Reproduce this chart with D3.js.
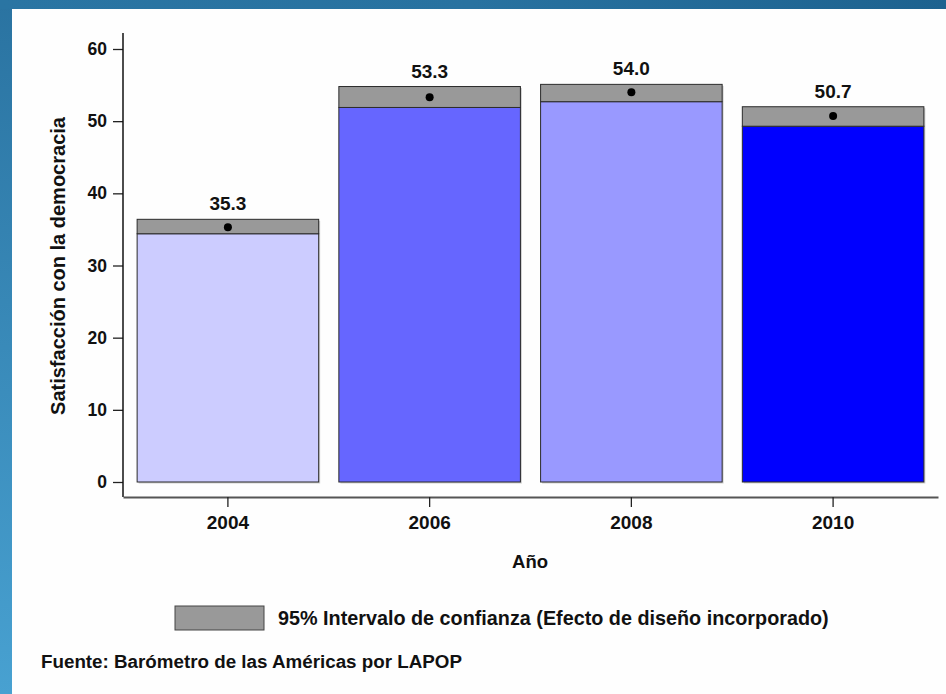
<!DOCTYPE html>
<html>
<head>
<meta charset="utf-8">
<script src="https://cdn.jsdelivr.net/npm/d3@7"></script>
<style>
  html, body { margin: 0; padding: 0; background: #ffffff; }
  svg { display: block; font-family: "Liberation Sans", Arial, Helvetica, sans-serif; font-weight: bold; }
</style>
</head>
<body>
<svg id="chart" width="946" height="694"></svg>
<script>
// ---- data ----
const years = ["2004", "2006", "2008", "2010"];
const means = [35.3, 53.3, 54.0, 50.7];
const ciLow = [34.4, 51.9, 52.7, 49.3];
const ciHigh = [36.4, 54.8, 55.1, 52.0];
const barColors = ["#ccccff", "#6666ff", "#9999ff", "#0000ff"];
const yTicks = [0, 10, 20, 30, 40, 50, 60];
const yTitle = "Satisfacción con la democracia";
const xTitle = "Año";
const legendLabel = "95% Intervalo de confianza (Efecto de diseño incorporado)";
const sourceNote = "Fuente: Barómetro de las Américas por LAPOP";

const svg = d3.select("#chart");
const W = 946, H = 694;

// ---- frame ----
const defs = svg.append("defs");
const gTop = defs.append("linearGradient").attr("id", "gTop").attr("x1", 0).attr("x2", 1).attr("y1", 0).attr("y2", 0);
gTop.append("stop").attr("offset", "0%").attr("stop-color", "#2a75a3");
gTop.append("stop").attr("offset", "50%").attr("stop-color", "#2872a0");
gTop.append("stop").attr("offset", "100%").attr("stop-color", "#1d628f");
const gLeft = defs.append("linearGradient").attr("id", "gLeft").attr("x1", 0).attr("x2", 0).attr("y1", 0).attr("y2", 1);
gLeft.append("stop").attr("offset", "0%").attr("stop-color", "#2a73a1");
gLeft.append("stop").attr("offset", "100%").attr("stop-color", "#48a1d1");

svg.append("rect").attr("x", 0).attr("y", 0).attr("width", W).attr("height", H).attr("fill", "#fefefe");
svg.append("rect").attr("x", 0).attr("y", 0).attr("width", 12).attr("height", H).attr("fill", "url(#gLeft)");
svg.append("rect").attr("x", 0).attr("y", 0).attr("width", W).attr("height", 9).attr("fill", "url(#gTop)");

// ---- scales ----
const x = d3.scaleBand().domain(years).range([123, 938]).paddingInner(0.1).paddingOuter(0.07);
const y = d3.scaleLinear().domain([0, 60]).range([482, 49]);

const data = years.map((yr, i) => ({ yr, mean: means[i], lo: ciLow[i], hi: ciHigh[i], color: barColors[i] }));

// ---- bars ----
const bars = svg.append("g");
bars.selectAll("rect.shadow").data(data).join("rect")
  .attr("class", "shadow")
  .attr("x", d => x(d.yr) + 1.5)
  .attr("y", d => y(d.hi) + 1.5)
  .attr("width", x.bandwidth())
  .attr("height", d => y(0) - y(d.hi))
  .attr("fill", "#000").attr("opacity", 0.18);
bars.selectAll("rect.bar").data(data).join("rect")
  .attr("class", "bar")
  .attr("x", d => x(d.yr))
  .attr("y", d => y(d.lo))
  .attr("width", x.bandwidth())
  .attr("height", d => y(0) - y(d.lo))
  .attr("fill", d => d.color)
  .attr("stroke", "#2b2b2b").attr("stroke-width", 1);
bars.selectAll("rect.ci").data(data).join("rect")
  .attr("class", "ci")
  .attr("x", d => x(d.yr))
  .attr("y", d => y(d.hi))
  .attr("width", x.bandwidth())
  .attr("height", d => y(d.lo) - y(d.hi))
  .attr("fill", "#999999")
  .attr("stroke", "#2b2b2b").attr("stroke-width", 1);
bars.selectAll("circle").data(data).join("circle")
  .attr("cx", d => x(d.yr) + x.bandwidth() / 2)
  .attr("cy", d => y(d.mean))
  .attr("r", 4)
  .attr("fill", "#000");
bars.selectAll("text").data(data).join("text")
  .attr("x", d => x(d.yr) + x.bandwidth() / 2)
  .attr("y", d => y(d.hi) - 9)
  .attr("text-anchor", "middle")
  .attr("font-size", 19)
  .attr("fill", "#111")
  .text(d => d.mean.toFixed(1));

// ---- axes ----
const yAxis = svg.append("g").attr("transform", "translate(123,0)")
  .call(d3.axisLeft(y).tickValues(yTicks).tickSize(10).tickSizeOuter(0).tickPadding(6));
yAxis.select(".domain").remove();
yAxis.append("line").attr("x1", 0).attr("x2", 0).attr("y1", 33).attr("y2", 497)
  .attr("stroke", "#111").attr("stroke-width", 1.5);
yAxis.selectAll(".tick line").attr("stroke", "#222").attr("stroke-width", 1.3);
yAxis.selectAll(".tick text").attr("font-size", 17.5).attr("fill", "#111")
  .attr("font-family", "Liberation Sans, Arial, sans-serif").attr("font-weight", "bold");

const xAxis = svg.append("g").attr("transform", "translate(0,497)")
  .call(d3.axisBottom(x).tickSize(10).tickSizeOuter(0).tickPadding(9));
xAxis.select(".domain").attr("stroke", "#555").attr("stroke-width", 1.8);
xAxis.selectAll(".tick line").attr("stroke", "#222").attr("stroke-width", 1.3);
xAxis.selectAll(".tick text").attr("font-size", 19).attr("fill", "#111")
  .attr("font-family", "Liberation Sans, Arial, sans-serif").attr("font-weight", "bold");

// ---- titles ----
svg.append("text")
  .attr("transform", "translate(65,266) rotate(-90)")
  .attr("text-anchor", "middle")
  .attr("font-size", 20)
  .attr("fill", "#111")
  .text(yTitle);
svg.append("text")
  .attr("x", 530).attr("y", 568)
  .attr("text-anchor", "middle")
  .attr("font-size", 18.5)
  .attr("fill", "#111")
  .text(xTitle);

// ---- legend ----
svg.append("rect").attr("x", 175).attr("y", 606).attr("width", 89).attr("height", 24)
  .attr("fill", "#999999").attr("stroke", "#444").attr("stroke-width", 1);
svg.append("text").attr("x", 278).attr("y", 625)
  .attr("font-size", 19.8).attr("fill", "#111")
  .text(legendLabel);

// ---- source ----
svg.append("text").attr("x", 41).attr("y", 667.5)
  .attr("font-size", 18.8).attr("fill", "#111")
  .text(sourceNote);
</script>
</body>
</html>
